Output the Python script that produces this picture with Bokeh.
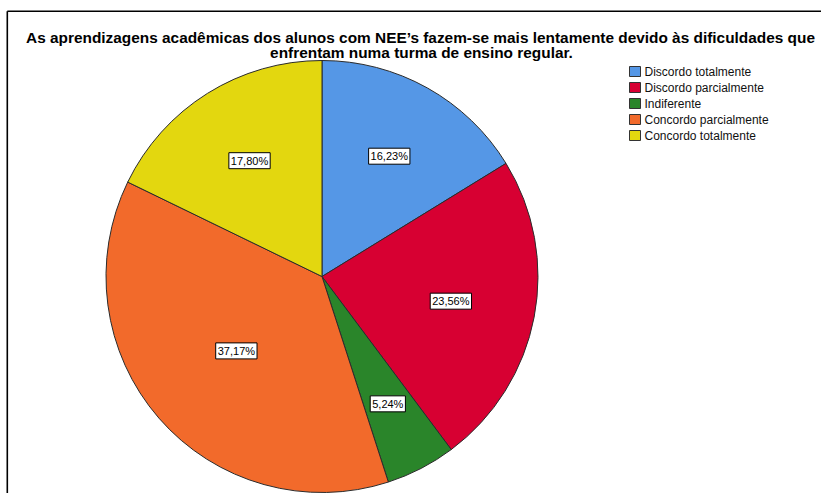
import math
from bokeh.plotting import figure
from bokeh.models import Range1d, ColumnDataSource
from bokeh.core.properties import value
from bokeh.embed import file_html
from bokeh.resources import INLINE

# ---- data ----
title_lines = [
    "As aprendizagens acadêmicas dos alunos com NEE’s fazem-se mais lentamente devido às dificuldades que",
    "enfrentam numa turma de ensino regular.",
]
categories = ["Discordo totalmente", "Discordo parcialmente", "Indiferente",
              "Concordo parcialmente", "Concordo totalmente"]
percentages = [16.23, 23.56, 5.24, 37.17, 17.80]
colors = ["#5597E6", "#D70032", "#2A852A", "#F26A2B", "#E3D70F"]

W, H = 821, 493
FONT = "Liberation Sans"

p = figure(width=W, height=H, output_backend="svg", toolbar_location=None,
           x_range=Range1d(0, W), y_range=Range1d(0, H), min_border=0,
           tools="")
p.axis.visible = False
p.grid.visible = False
p.outline_line_color = None
p.background_fill_color = "white"
p.border_fill_color = "white"

def px(x):
    return x

def py(y):
    return H - y

# frame (top and left edges)
p.line([px(6.8), px(821)], [py(10.7), py(10.7)], line_color="black", line_width=1.6)
p.line([px(6.8), px(6.8)], [py(10.7), py(493)], line_color="black", line_width=1.6)

# title
p.text(x=[px(420), px(421)], y=[py(36.5), py(51.5)], text=title_lines,
       text_font=value(FONT), text_font_size="15.4px", text_font_style="bold",
       text_align="center", text_baseline="alphabetic", text_color="black")

# pie
cx, cy, r = px(321.5), py(276), 216.0
total = sum(percentages)
starts, ends, lx, ly, labels = [], [], [], [], []
cum = 0.0
for v in percentages:
    a0 = math.pi / 2 - 2 * math.pi * cum / total
    cum += v
    a1 = math.pi / 2 - 2 * math.pi * cum / total
    starts.append(a0)
    ends.append(a1)
    half = (a0 - a1) / 2
    mid = (a0 + a1) / 2
    d = 2 * r * math.sin(half) / (3 * half)
    lx.append(cx + d * math.cos(mid))
    ly.append(cy + d * math.sin(mid))
    labels.append(f"{v:.2f}".replace(".", ",") + "%")

src = ColumnDataSource(dict(start=starts, end=ends, color=colors, lx=lx, ly=ly, label=labels))
p.wedge(x=cx, y=cy, radius=r, start_angle="start", end_angle="end", direction="clock",
        fill_color="color", line_color="#2b2b2b", line_width=1, source=src)

p.text(x="lx", y="ly", text="label", source=src,
       text_font=value(FONT), text_font_size="11px", text_color="black",
       text_align="center", text_baseline="middle",
       background_fill_color="white", border_line_color="black", border_line_width=1,
       padding=2)

# legend
leg_y0 = 71
ys = [py(leg_y0 + 16 * i) for i in range(len(categories))]
p.rect(x=[px(634.5)] * len(categories), y=ys, width=11, height=10,
       fill_color=colors, line_color="#333333", line_width=1)
p.text(x=[px(644)] * len(categories), y=ys, text=categories,
       text_font=value(FONT), text_font_size="12px", text_color="#111111",
       text_align="left", text_baseline="middle")

open("out.html", "w").write(file_html(p, INLINE))
